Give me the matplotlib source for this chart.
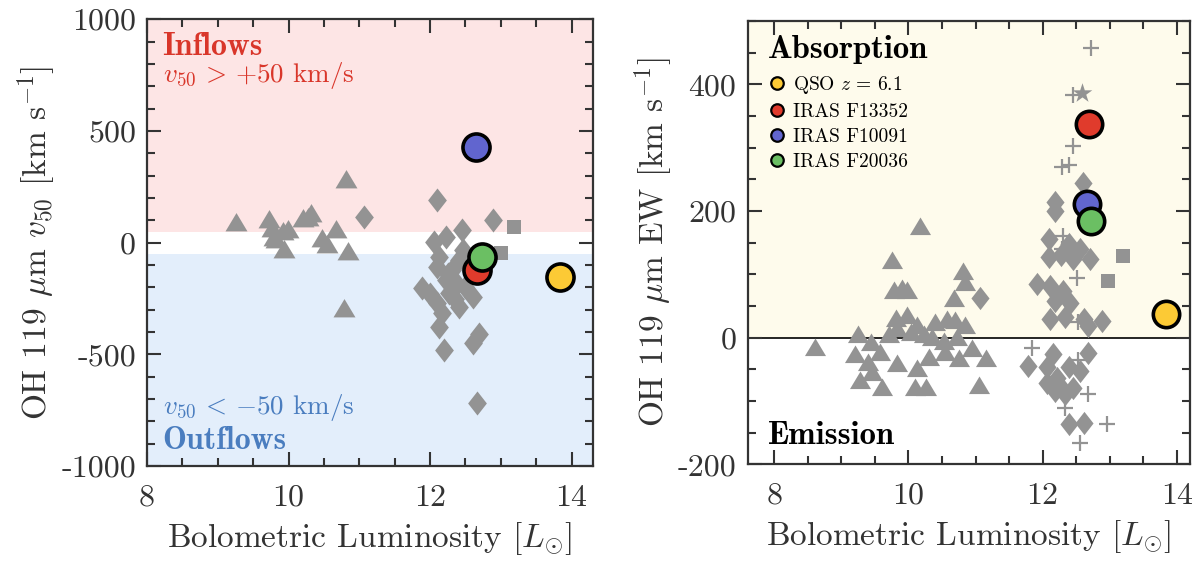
import matplotlib
matplotlib.use("Agg")
import matplotlib.pyplot as plt
from matplotlib.lines import Line2D
from matplotlib.path import Path
import numpy as np

plt.rcParams['font.family'] = 'serif'
plt.rcParams['font.serif'] = ['cmr10']
plt.rcParams['mathtext.fontset'] = 'cm'
plt.rcParams['axes.unicode_minus'] = False
plt.rcParams['axes.formatter.use_mathtext'] = True

# ---------------- data: left panel (v50) ----------------
L_tri_x = [9.26, 9.72, 9.76, 9.80, 9.83, 9.92, 9.94, 9.99, 10.20, 10.32, 10.27, 10.48, 10.55, 10.67, 10.81, 10.84, 10.79]
L_tri_y = [90, 100, 60, 20, 10, 50, -35, 56, 105, 130, 110, 15, -10, 55, 280, -40, -295]

L_dia_x = [11.06, 12.10, 12.89, 12.45, 12.22, 12.06, 12.13, 12.41, 11.89, 12.10, 12.22, 12.38,
           12.60, 12.10, 12.41, 12.27, 12.13, 12.20, 12.60, 12.69, 12.31, 12.46, 12.17, 12.00,
           12.67, 12.25, 12.35, 12.50]
L_dia_y = [114, 190, 100, 56, 26, 4, -63, -78, -205, -108, -168, -183,
           -243, -272, -287, -227, -377, -481, -451, -407, -123, -34, -317, -230,
           -718, -140, -250, -200]

L_sq_x = [13.18, 13.00]
L_sq_y = [71, -48]

# ---------------- data: right panel (EW) ----------------
R_tri_x = [8.60, 9.20, 9.24, 9.27, 9.40, 9.44, 9.45, 9.57, 9.60, 9.71,
           9.76, 9.78, 9.81, 9.83, 9.83, 9.91, 9.98, 9.98, 10.04, 10.10,
           10.13, 10.13, 10.17, 10.23, 10.26, 10.30, 10.35, 10.40, 10.53, 10.55,
           10.58, 10.68, 10.70, 10.73, 10.75, 10.81, 10.84, 10.85, 10.95, 11.05,
           11.15]
R_tri_y = [-16, -28, 5, -69, -40, -8, -55, -24, -79, 5,
           121, 74, 29, 13, -42, 77, 74, 34, 7, -79,
           18, -50, 174, 5, -79, -32, -1, 23, -7, -24,
           28, 61, 26, -1, -34, 103, 87, 18, -18, -76,
           -34]

R_dia_x = [11.06, 12.09, 12.39, 12.09, 12.27, 12.46, 12.71, 12.56, 11.92, 12.11,
           12.31, 12.19, 12.41, 12.11, 12.34, 12.62, 12.68, 12.88, 12.19, 12.19,
           12.60, 12.68, 11.79, 12.16, 12.06, 12.39, 12.56, 12.21, 12.06, 12.46,
           12.34, 12.19, 12.39, 12.62, 12.26]
R_dia_y = [62, 156, 148, 127, 131, 124, 124, 140, 85, 82,
           74, 58, 55, 29, 32, 29, 19, 26, 214, 200,
           244, -24, -45, -26, -47, -47, -52, -63, -71, -79,
           -89, -84, -137, -134, -76]

R_sq_x = [13.20, 12.98]
R_sq_y = [129, 90]

R_plus_x = [12.72, 12.45, 12.45, 12.29, 12.39, 12.31, 12.29, 12.51, 12.53, 11.84,
            12.53, 12.68, 12.34, 12.96, 12.56]
R_plus_y = [458, 383, 302, 269, 272, 161, 140, 95, 24, -16,
            -36, -89, -111, -137, -166]

R_star_x = [12.59]
R_star_y = [386]

# highlighted sources: QSO, F13352, F10091, F20036
src_labels = ['QSO $z\\,=\\,6.1$', 'IRAS F13352', 'IRAS F10091', 'IRAS F20036']
src_colors = ['#fcca35', '#e03b2c', '#6165cf', '#6bbf63']
src_lum = [13.84, 12.67, 12.65, 12.74]
src_lum_R = [13.84, 12.69, 12.66, 12.73]
src_v50 = [-153, -123, 429, -63]
src_ew = [37, 338, 211, 184]

L_yticks = [-1000, -500, 0, 500, 1000]
L_yticklabels = ['-1000', '-500', '0', '500', '1000']
R_yticks = [-200, 0, 200, 400]
R_yticklabels = ['-200', '0', '200', '400']
xticks = [8, 10, 12, 14]
xticklabels = ['8', '10', '12', '14']

# ---------------- styling ----------------
GRAY = '#939393'
TXT = '#333333'
tri_path = Path([(-1, -0.72), (1, -0.72), (0, 0.95), (-1, -0.72)], closed=True)
dia_path = Path([(0, 1), (0.78, 0), (0, -1), (-0.78, 0), (0, 1)], closed=True)

fig = plt.figure(figsize=(12, 5.67), dpi=100)
axL = fig.add_axes([0.1225, 0.178, 0.3715, 0.788])
axR = fig.add_axes([0.623, 0.181, 0.3687, 0.782])

def style(ax):
    for s in ax.spines.values():
        s.set_linewidth(1.6)
        s.set_color(TXT)
    ax.tick_params(which='both', direction='in', top=True, right=True,
                   color=TXT, labelcolor=TXT, width=1.5, labelsize=23, pad=8)
    ax.tick_params(axis='x', which='both', pad=13)
    ax.tick_params(which='major', length=10)
    ax.tick_params(which='minor', length=6)

# Left panel
axL.axhspan(50, 1000, color='#fde5e5', zorder=0, lw=0)
axL.axhspan(-1000, -50, color='#e3eefb', zorder=0, lw=0)
axL.scatter(L_tri_x, L_tri_y, marker=tri_path, s=250, color=GRAY, lw=0, zorder=2)
axL.scatter(L_dia_x, L_dia_y, marker=dia_path, s=300, color=GRAY, lw=0, zorder=2)
axL.scatter(L_sq_x, L_sq_y, marker='s', s=95, color=GRAY, lw=0, zorder=2)
for xv, yv, c in zip(src_lum, src_v50, src_colors):
    axL.scatter([xv], [yv], s=380, color=c, edgecolor='black', lw=2.6, zorder=4)
axL.set_xlim(8, 14.3)
axL.set_ylim(-1000, 1000)
axL.set_xticks(xticks)
axL.set_xticklabels(xticklabels)
axL.set_yticks(L_yticks)
axL.set_yticklabels(L_yticklabels)
axL.set_xticks(np.arange(8, 14.31, 0.5), minor=True)
axL.set_yticks(np.arange(-1000, 1001, 100), minor=True)
style(axL)
axL.set_xlabel(r'Bolometric Luminosity [$L_{\odot}$]', fontsize=24, labelpad=6, color=TXT)
axL.set_ylabel(r'OH 119 $\mu$m $v_{50}$ [km s$^{-1}$]', fontsize=24, labelpad=2, color=TXT)
axL.text(0.035, 0.938, 'Inflows', transform=axL.transAxes, fontfamily='cmb10',
         fontsize=23, color='#d9362a', va='center', ha='left')
axL.text(0.035, 0.875, r'$v_{50}\,>\,{+}50$ km/s', transform=axL.transAxes,
         fontsize=19.5, color='#d9362a', va='center', ha='left')
axL.text(0.035, 0.130, r'$v_{50}\,<\,{-}50$ km/s', transform=axL.transAxes,
         fontsize=19.5, color='#4a7dbf', va='center', ha='left')
axL.text(0.035, 0.058, 'Outflows', transform=axL.transAxes, fontfamily='cmb10',
         fontsize=23, color='#4a7dbf', va='center', ha='left')

# Right panel
axR.axhspan(0, 500, color='#fefbec', zorder=0, lw=0)
axR.axhline(0, color='black', lw=1.2, zorder=1)
axR.scatter(R_tri_x, R_tri_y, marker=tri_path, s=230, color=GRAY, lw=0, zorder=2)
axR.scatter(R_dia_x, R_dia_y, marker=dia_path, s=280, color=GRAY, lw=0, zorder=2)
axR.scatter(R_sq_x, R_sq_y, marker='s', s=95, color=GRAY, lw=0, zorder=2)
axR.scatter(R_plus_x, R_plus_y, marker='+', s=140, color=GRAY, lw=1.6, zorder=2)
axR.scatter(R_star_x, R_star_y, marker='*', s=220, color=GRAY, lw=0, zorder=2)
for xv, yv, c in zip(src_lum_R, src_ew, src_colors):
    axR.scatter([xv], [yv], s=360, color=c, edgecolor='black', lw=2.6, zorder=4)
axR.set_xlim(7.6, 14.2)
axR.set_ylim(-200, 500)
axR.set_xticks(xticks)
axR.set_xticklabels(xticklabels)
axR.set_yticks(R_yticks)
axR.set_yticklabels(R_yticklabels)
axR.set_xticks(np.arange(8, 14.21, 0.5), minor=True)
axR.set_yticks(np.arange(-200, 501, 50), minor=True)
style(axR)
axR.set_xlabel(r'Bolometric Luminosity [$L_{\odot}$]', fontsize=24, labelpad=6, color=TXT)
axR.set_ylabel(r'OH 119 $\mu$m EW [km s$^{-1}$]', fontsize=24, labelpad=2, color=TXT)
axR.text(0.045, 0.935, 'Absorption', transform=axR.transAxes, fontfamily='cmb10',
         fontsize=23.5, color='black', va='center', ha='left')
axR.text(0.045, 0.065, 'Emission', transform=axR.transAxes, fontfamily='cmb10',
         fontsize=23.5, color='black', va='center', ha='left')

handles = [Line2D([], [], marker='o', ls='', markersize=9, markerfacecolor=c,
                  markeredgecolor='black', markeredgewidth=1.6) for c in src_colors]
axR.legend(handles, src_labels, loc='upper left', bbox_to_anchor=(0.05, 0.88),
           frameon=False, fontsize=14, borderpad=0, borderaxespad=0,
           handlelength=0.8, handletextpad=0.4, labelspacing=0.36)

fig.savefig('out.png', dpi=100)
